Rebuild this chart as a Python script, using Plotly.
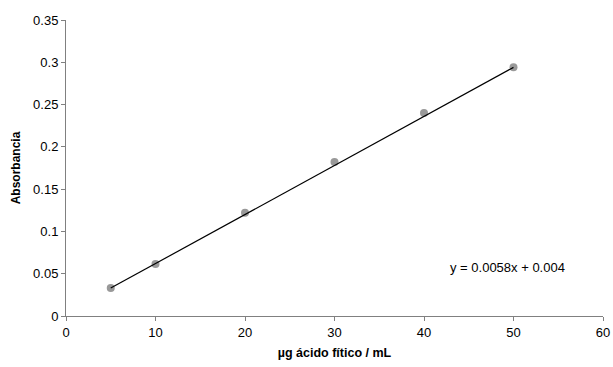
import plotly.graph_objects as go

conc = [5, 10, 20, 30, 40, 50]
absorb = [0.033, 0.0615, 0.122, 0.182, 0.240, 0.294]
slope = 0.0058
intercept = 0.004
fit_x = [5, 50]
fit_y = [slope * v + intercept for v in fit_x]

x_ticks = [0, 10, 20, 30, 40, 50, 60]
y_ticks = [0, 0.05, 0.1, 0.15, 0.2, 0.25, 0.3, 0.35]
y_tick_text = ["0", "0.05", "0.1", "0.15", "0.2", "0.25", "0.3", "0.35"]

FONT = "Liberation Sans, Arial"

fig = go.Figure()
fig.add_trace(go.Scatter(x=conc, y=absorb, mode="markers",
                         marker=dict(color="#999999", size=8, line=dict(width=0)),
                         showlegend=False))
fig.add_trace(go.Scatter(x=fit_x, y=fit_y, mode="lines",
                         line=dict(color="black", width=1.2), showlegend=False))

fig.add_annotation(x=49.33, y=0.057, xref="x", yref="y",
                   text="y = 0.0058x + 0.004", showarrow=False,
                   font=dict(family=FONT, size=13, color="black"))

axis_common = dict(showgrid=False, zeroline=False, showline=True, linecolor="#808080",
                   linewidth=1, ticks="outside", tickcolor="#808080", ticklen=4,
                   automargin=False,
                   tickfont=dict(family=FONT, size=13, color="black"))

fig.update_layout(
    width=613, height=367,
    margin=dict(l=66, r=10, t=20, b=51),
    plot_bgcolor="white", paper_bgcolor="white",
    xaxis=dict(range=[0, 60], tickvals=x_ticks,
               title=dict(text="<b>µg ácido fítico / mL</b>", standoff=9,
                          font=dict(family=FONT, size=12.5, color="black")),
               **axis_common),
    yaxis=dict(range=[0, 0.35], tickvals=y_ticks, ticktext=y_tick_text,
               title=dict(text="<b>Absorbancia</b>", standoff=9,
                          font=dict(family=FONT, size=12, color="black")),
               **axis_common),
)
fig.write_html("out.html", config={"displayModeBar": False},
               post_script="document.body.style.margin='0';document.body.style.padding='0';")
